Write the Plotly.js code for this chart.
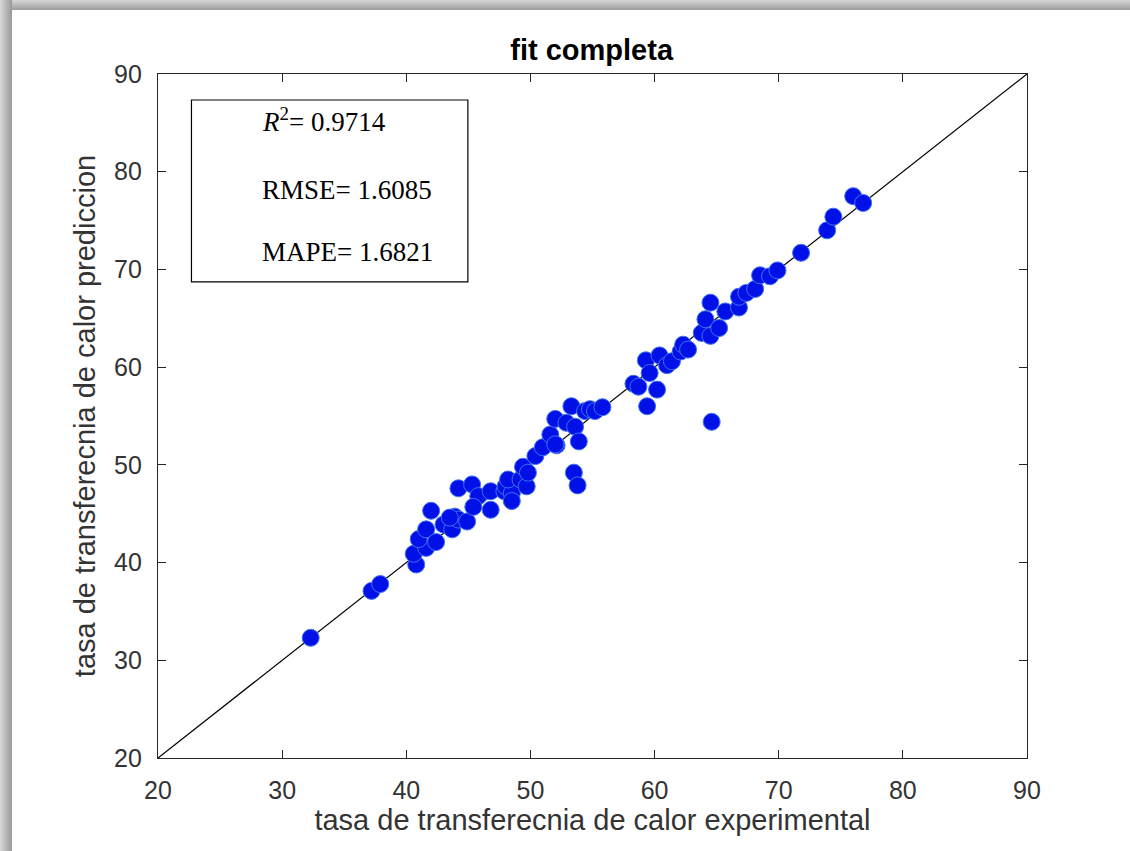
<!DOCTYPE html>
<html>
<head>
<meta charset="utf-8">
<script src="https://cdn.plot.ly/plotly-3.0.1.min.js"></script>
<style>
  html, body { margin: 0; padding: 0; background: #fff; }
  #wrap { position: relative; width: 1130px; height: 851px; overflow: hidden; }
  #chart { position: absolute; left: 0; top: 0; width: 1130px; height: 851px; }
  .edge-top { position: absolute; left: 0; top: 0; width: 1130px; height: 10px;
              background: linear-gradient(to bottom, #d6d6d6, #9c9c9c); }
  .edge-left { position: absolute; left: 0; top: 0; width: 12px; height: 851px;
               background: linear-gradient(to right, #dadada, #989898); }
</style>
</head>
<body>
<div id="wrap">
  <div id="chart"></div>
  <div class="edge-top"></div>
  <div class="edge-left"></div>
</div>
<script>
// Measured heat transfer rate vs. model prediction
const experimental = [
  32.3, 37.2, 37.9, 40.8, 40.6, 41.6, 41.0, 41.6, 42.4, 42.0,
  43.0, 43.7, 43.9, 44.2, 44.9, 43.5, 44.2, 45.3, 45.8, 45.4,
  46.8, 46.8, 47.9, 48.0, 48.5, 48.5, 48.2, 49.2, 49.7, 49.4,
  49.8, 50.4, 51.0, 51.6, 52.1, 52.0, 52.9, 53.6, 53.9, 53.3,
  54.4, 54.8, 55.2, 55.8, 53.5, 53.8, 52.0, 58.3, 58.7, 59.3,
  59.6, 60.2, 59.4, 60.4, 61.0, 61.4, 62.1, 62.3, 62.7, 63.8,
  64.5, 64.1, 65.2, 64.5, 64.6, 65.7, 66.8, 66.8, 67.4, 68.1,
  68.5, 69.3, 69.9, 71.8, 73.9, 74.4, 76.0, 76.8
];
const predicted = [
  32.3, 37.1, 37.8, 39.8, 40.9, 41.5, 42.4, 43.4, 42.1, 45.3,
  43.9, 43.4, 44.7, 44.4, 44.2, 44.6, 47.6, 48.0, 46.8, 45.7,
  45.4, 47.3, 47.3, 47.8, 47.1, 46.3, 48.5, 48.5, 47.8, 49.8,
  49.2, 50.9, 51.8, 53.1, 52.0, 54.7, 54.3, 53.9, 52.4, 56.0,
  55.5, 55.7, 55.5, 55.9, 49.2, 47.9, 52.1, 58.3, 58.0, 60.7,
  59.4, 57.7, 56.0, 61.2, 60.2, 60.6, 61.6, 62.3, 61.8, 63.5,
  63.2, 64.9, 64.0, 66.6, 54.4, 65.7, 66.1, 67.2, 67.6, 68.0,
  69.4, 69.3, 69.9, 71.7, 74.0, 75.4, 77.5, 76.8
];

// Perfect-fit reference line y = x
const identityLine = [20, 90];

const tickValues = [20, 30, 40, 50, 60, 70, 80, 90];

const statLabels = [
  '<i>R</i><sup>2</sup>= 0.9714',
  'RMSE= 1.6085',
  'MAPE= 1.6821'
];

const axisColor = '#262626';
const labelColor = '#333333';

const traces = [
  {
    type: 'scatter', mode: 'lines',
    x: identityLine, y: identityLine,
    line: { color: '#000000', width: 1.2 },
    hoverinfo: 'skip', showlegend: false
  },
  {
    type: 'scatter', mode: 'markers',
    x: experimental, y: predicted,
    marker: { size: 17, color: '#0010e6', line: { color: '#4170f2', width: 1 } },
    showlegend: false
  }
];

function axisStyle(titleText) {
  return {
    range: [20, 90],
    tickvals: tickValues,
    ticktext: tickValues.map(String),
    ticks: 'inside', ticklen: 8, tickwidth: 1, tickcolor: axisColor,
    showline: true, linecolor: axisColor, linewidth: 1.2, mirror: 'ticks',
    showgrid: false, zeroline: false,
    tickfont: { family: 'Liberation Sans, Arial, sans-serif', size: 25, color: labelColor },
    ticklabelstandoff: 10,
    title: { text: titleText, font: { family: 'Liberation Sans, Arial, sans-serif', size: 29, color: labelColor } }
  };
}

const xaxis = axisStyle('tasa de transferecnia de calor experimental');
xaxis.title.standoff = 5;
const yaxis = axisStyle('tasa de transferecnia de calor prediccion');
yaxis.title.standoff = 9;

const statY = [0.933, 0.830, 0.740];
const annotations = statLabels.map((t, i) => ({
  xref: 'paper', yref: 'paper', x: 0.117, y: statY[i],
  xanchor: 'left', yanchor: 'middle', showarrow: false,
  text: t,
  font: { family: 'Liberation Serif, Times New Roman, serif', size: 27, color: '#000' }
}));

const layout = {
  width: 1130, height: 851,
  margin: { l: 158, r: 103, t: 74, b: 93 },
  paper_bgcolor: '#ffffff', plot_bgcolor: '#ffffff',
  title: {
    text: '<b>fit completa</b>',
    font: { family: 'Liberation Sans, Arial, sans-serif', size: 29, color: '#000' },
    x: 0.5236, xanchor: 'center', y: 0.941, yanchor: 'middle'
  },
  xaxis: xaxis,
  yaxis: yaxis,
  shapes: [{
    type: 'rect', xref: 'paper', yref: 'paper',
    x0: 0.0385, x1: 0.3566, y0: 0.696, y1: 0.962,
    line: { color: '#000', width: 1.2 }, fillcolor: '#ffffff', layer: 'above'
  }],
  annotations: annotations
};

Plotly.newPlot('chart', traces, layout, { displayModeBar: false, staticPlot: true });
</script>
</body>
</html>
